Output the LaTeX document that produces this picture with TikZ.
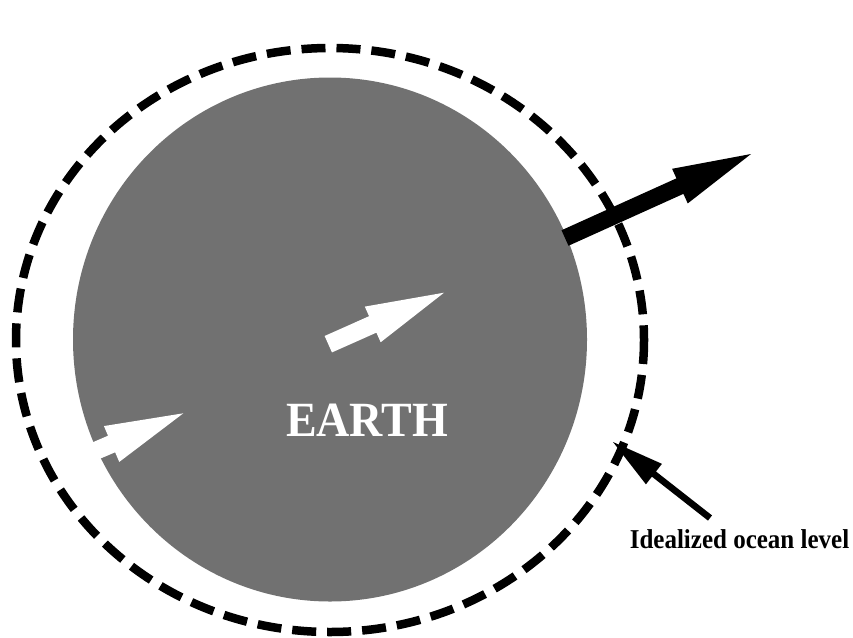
\documentclass[tikz,border=0pt]{standalone}
\usepackage{fontspec}
\setmainfont{Liberation Serif}
\usetikzlibrary{calc}
\definecolor{earthgray}{RGB}{113,113,113}
\tikzset{
  earthfill/.style={fill=earthgray},
  oceanline/.style={draw=black, line width=8.5pt, dash pattern=on 24pt off 11pt},
  whitearrow/.style={fill=white},
  blackarrow/.style={fill=black},
  earthlabel/.style={text=white, font=\bfseries\fontsize{46}{50}\selectfont, inner sep=0pt, anchor=base},
  oceanlabel/.style={text=black, font=\bfseries\fontsize{25}{28}\selectfont, inner sep=0pt, anchor=base}
}
\newcommand{\blockarrow}[6]{%
  \coordinate (babase) at ($(#2)!#4!(#1)$);
  \fill[#6] ($(#1)!#3!90:(#2)$) -- ($(babase)!#3!90:(#2)$) -- ($(babase)!#5!90:(#2)$) -- (#2) -- ($(babase)!#5!-90:(#2)$) -- ($(babase)!#3!-90:(#2)$) -- ($(#1)!#3!-90:(#2)$) -- cycle;}
\begin{document}
\begin{tikzpicture}[x=1pt,y=-1pt]
\useasboundingbox (0,0) rectangle (853,637);
% Earth
\coordinate (earthc) at (330,339.5);
\fill[earthfill] (earthc) ellipse [x radius=257, y radius=262];
% white arrows inside the Earth
\coordinate (midtail) at (328.3,344.2);
\coordinate (midtip) at (444,292.7);
\blockarrow{midtail}{midtip}{9pt}{78pt}{19.5pt}{whitearrow}
\coordinate (lefttail) at (66.7,463.2);
\coordinate (lefttip) at (183.3,413.3);
\blockarrow{lefttail}{lefttip}{9pt}{78pt}{19.5pt}{whitearrow}
% idealized ocean level
\coordinate (oceanc) at (330,340);
\draw[oceanline] (oceanc) ellipse [x radius=314, y radius=292];
% black arrow
\coordinate (bigtail) at (565,238);
\coordinate (bigtip) at (751,154);
\blockarrow{bigtail}{bigtip}{8.5pt}{78pt}{19pt}{blackarrow}
% label arrow
\coordinate (labtail) at (710,518);
\coordinate (labtip) at (613,442);
\blockarrow{labtail}{labtip}{3.3pt}{52pt}{13pt}{blackarrow}
% texts
\node[earthlabel] (earthtext) at (367,436) {\scalebox{1}[1.07]{EARTH}};
\node[oceanlabel] (oceantext) at (739.5,548) {\scalebox{1}[1.09]{Idealized ocean level}};
\end{tikzpicture}
\end{document}
